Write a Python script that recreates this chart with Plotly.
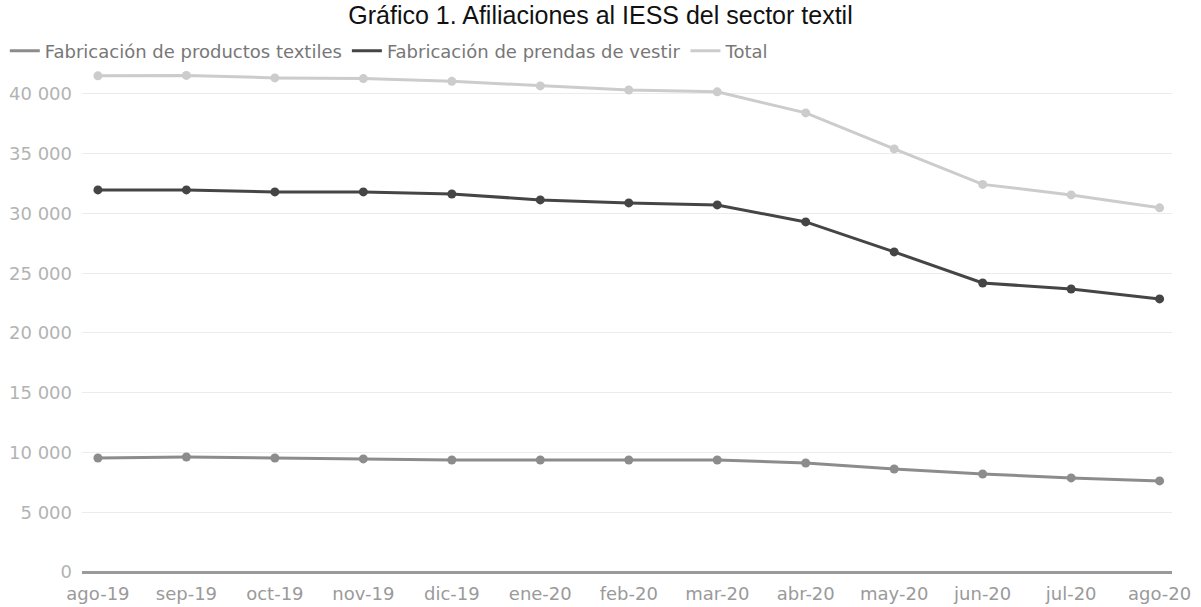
import plotly.graph_objects as go

meses = ["ago-19", "sep-19", "oct-19", "nov-19", "dic-19", "ene-20", "feb-20",
         "mar-20", "abr-20", "may-20", "jun-20", "jul-20", "ago-20"]

textiles = [9540, 9620, 9540, 9460, 9370, 9370, 9370, 9370, 9120, 8620, 8200, 7870, 7620]
prendas = [31970, 31970, 31800, 31800, 31630, 31130, 30880, 30710, 29290, 26780, 24180, 23680, 22850]
total = [41510, 41550, 41340, 41280, 41050, 40670, 40330, 40170, 38410, 35400, 32430, 31550, 30470]

series = [
    ("Fabricación de productos textiles", textiles, "#8c8c8c"),
    ("Fabricación de prendas de vestir", prendas, "#454545"),
    ("Total", total, "#cccccc"),
]

FUENTE = "DejaVu Sans"

fig = go.Figure()
for nombre, valores, color in series:
    # line with point markers
    fig.add_trace(go.Scatter(
        x=meses, y=valores, name=nombre, mode="lines+markers",
        line=dict(color=color, width=3),
        marker=dict(color=color, size=9),
        showlegend=False, legendgroup=nombre,
    ))
    # legend entry drawn as a plain line segment
    fig.add_trace(go.Scatter(
        x=[None], y=[None], name=nombre, mode="lines",
        line=dict(color=color, width=3),
        showlegend=True, legendgroup=nombre,
    ))

fig.update_layout(
    width=1201, height=607,
    margin=dict(l=82, r=29, t=70, b=35, autoexpand=False),
    paper_bgcolor="white", plot_bgcolor="white",
    separators=", ",
    title=dict(
        text="Gráfico 1. Afiliaciones al IESS del sector textil",
        x=0.5, xanchor="center", y=0.975, yanchor="middle",
        font=dict(family="Liberation Sans, Arial", size=25, color="#111111"),
    ),
    legend=dict(
        orientation="h", xref="container", yref="container",
        x=0.004, xanchor="left", y=0.916, yanchor="middle",
        font=dict(family=FUENTE, size=18, color="#777777"),
        itemwidth=30, tracegroupgap=0,
    ),
)

fig.update_xaxes(
    type="category", range=[-0.18, 12.14], automargin=False,
    showgrid=False, showline=False, zeroline=False,
    ticks="", ticklabelstandoff=9,
    tickfont=dict(family=FUENTE, size=18, color="#9a9a9a"),
)
fig.update_yaxes(
    range=[0, 42000], dtick=5000, tickformat=",d", automargin=False,
    showgrid=True, gridcolor="#ececec", gridwidth=1,
    zeroline=True, zerolinecolor="#9a9a9a", zerolinewidth=3,
    ticks="", ticklabelstandoff=9,
    tickfont=dict(family=FUENTE, size=18, color="#b3b3b3"),
)

fig.write_html("out.html")
